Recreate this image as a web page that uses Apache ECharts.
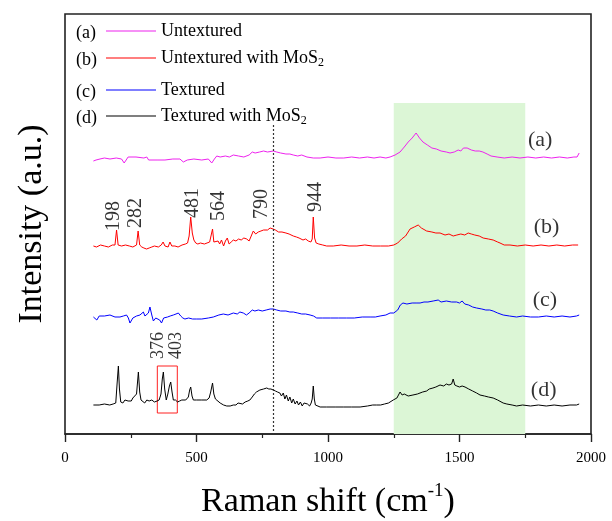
<!DOCTYPE html>
<html>
<head>
<meta charset="utf-8">
<script src="https://cdn.jsdelivr.net/npm/echarts@6.0.0/dist/echarts.min.js"></script>
<style>
html,body{margin:0;padding:0;background:#fff}
#main{width:612px;height:521px}
</style>
</head>
<body>
<div id="main"></div>
<script>
// Raman spectra, offset stacked (x = Raman shift cm-1, y = intensity a.u. incl. offset)
var names = ['Untextured', 'Untextured with MoS2', 'Textured', 'Textured with MoS2'];
var tags = ['(a)', '(b)', '(c)', '(d)'];
var colors = ['#ee22ee', '#ff0000', '#0000ff', '#000000'];

var ramanA = [[108,273],[113,271],[118,274],[133,275],[150,276],[171,275],[195,276],[215,275],[225,271],[232,272],[240,277],[270,277],[300,276],[311,277],[318,274],[323,273],[350,274],[380,274],[410,275],[437,275],[450,272],[456,271],[465,274],[490,275],[520,274],[545,275],[558,271],[568,275],[577,278],[590,277],[610,278],[625,277],[640,279],[660,278],[680,277],[700,279],[712,282],[723,281],[740,282],[755,283],[770,282],[792,283],[805,282],[820,281],[840,280],[855,280],[868,279],[885,278],[900,279],[920,277],[944,276],[970,276],[1000,277],[1030,276],[1060,276],[1090,277],[1120,276],[1150,277],[1175,276],[1198,277],[1220,276],[1236,277],[1255,279],[1274,282],[1290,287],[1305,292],[1320,296],[1335,301],[1348,296],[1361,292],[1378,289],[1395,286],[1412,285],[1430,283],[1450,282],[1464,281],[1480,282],[1495,284],[1505,283],[1515,286],[1529,286],[1545,284],[1560,283],[1575,283],[1589,282],[1605,280],[1620,278],[1643,277],[1670,276],[1700,277],[1730,276],[1760,277],[1790,276],[1820,277],[1850,276],[1880,277],[1910,276],[1935,277],[1947,277],[1955,281]];

var ramanB = [[108,188],[120,187],[135,189],[150,188],[165,187],[180,189],[190,189],[196,204],[202,189],[215,188],[230,189],[245,188],[258,187],[272,189],[278,203],[284,189],[292,187],[300,186],[310,185],[320,186],[330,187],[340,188],[355,187],[366,189],[373,192],[380,188],[392,187],[399,192],[406,188],[418,188],[430,187],[445,189],[458,190],[466,191],[472,198],[478,217],[484,201],[490,194],[497,191],[505,190],[515,191],[530,190],[540,191],[550,192],[556,193],[561,205],[566,192],[573,190],[582,193],[588,190],[595,194],[603,188],[610,193],[617,196],[624,190],[632,192],[640,194],[650,193],[660,195],[670,194],[680,196],[691,195],[700,193],[708,198],[716,203],[725,200],[735,202],[745,203],[755,204],[770,204],[780,206],[791,205],[800,204],[812,202],[825,202],[840,201],[852,200],[868,198],[880,197],[890,196],[905,194],[915,195],[925,193],[935,192],[940,195],[944,217],[949,196],[955,191],[965,190],[980,189],[995,188],[1020,188],[1050,189],[1080,188],[1110,188],[1140,189],[1170,188],[1200,188],[1230,188],[1250,189],[1265,191],[1280,195],[1295,198],[1312,205],[1328,207],[1343,209],[1355,206],[1375,203],[1395,202],[1410,201],[1426,201],[1445,199],[1460,200],[1476,198],[1490,199],[1505,200],[1520,199],[1533,201],[1545,200],[1558,199],[1575,198],[1590,196],[1610,195],[1628,194],[1645,192],[1654,191],[1670,189],[1692,189],[1720,188],[1750,189],[1780,188],[1810,189],[1840,188],[1870,189],[1900,188],[1930,189],[1951,189]];

var ramanC = [[108,117],[115,116],[121,114],[130,118],[150,118],[171,119],[190,117],[209,117],[222,118],[234,119],[241,116],[247,111],[258,116],[272,118],[285,119],[298,122],[304,118],[310,116],[317,121],[323,127],[330,119],[336,113],[345,116],[352,117],[360,114],[367,111],[375,116],[390,117],[400,118],[412,119],[422,120],[431,121],[440,118],[448,116],[456,115],[470,116],[485,115],[501,115],[520,115],[545,116],[564,117],[585,119],[602,120],[620,119],[640,121],[655,120],[665,122],[678,121],[690,119],[700,121],[712,124],[722,123],[735,124],[750,123],[765,124],[780,125],[792,125],[805,124],[820,123],[840,123],[855,122],[868,122],[885,121],[900,120],[915,120],[932,119],[945,118],[957,116],[980,116],[1010,116],[1040,116],[1071,116],[1100,116],[1130,117],[1160,117],[1180,117],[1198,118],[1220,119],[1236,121],[1250,121],[1265,124],[1275,129],[1285,131],[1300,130],[1320,131],[1335,131],[1350,131],[1365,132],[1380,132],[1400,133],[1419,134],[1430,132],[1450,133],[1470,132],[1489,132],[1500,131],[1510,133],[1520,130],[1535,129],[1550,127],[1565,126],[1585,125],[1600,124],[1615,124],[1628,123],[1645,121],[1666,119],[1690,118],[1717,117],[1740,118],[1770,117],[1800,117],[1830,118],[1860,117],[1890,118],[1920,117],[1945,118],[1955,119]];

var ramanD = [[108,29],[130,29],[150,30],[170,29],[183,30],[193,31],[198,50],[203,68],[207,45],[212,32],[220,31],[228,34],[234,36],[240,33],[245,35],[252,33],[258,36],[265,34],[272,40],[279,62],[284,42],[289,34],[296,32],[303,31],[311,34],[320,33],[330,34],[340,32],[350,33],[358,34],[365,40],[370,55],[374,62],[379,45],[385,34],[391,40],[397,48],[402,52],[407,42],[412,34],[420,34],[428,32],[436,33],[444,34],[450,33],[459,34],[465,36],[469,37],[474,44],[478,47],[483,38],[488,34],[500,34],[520,34],[539,34],[548,36],[554,42],[561,51],[566,40],[572,35],[577,34],[590,31],[603,29],[615,28],[628,28],[640,29],[650,29],[658,31],[665,31],[675,30],[685,32],[695,33],[703,34],[712,37],[720,40],[728,42],[741,44],[748,46],[755,45],[761,46],[767,46],[775,45],[783,45],[792,44],[800,43],[808,42],[817,41],[823,38],[830,41],[836,35],[842,39],[849,33],[855,37],[862,31],[868,35],[875,30],[882,33],[888,29],[895,32],[902,28],[909,31],[915,29],[922,30],[930,28],[936,31],[940,35],[944,48],[948,35],[952,29],[957,28],[970,27],[995,27],[1030,27],[1060,27],[1090,27],[1122,27],[1150,28],[1170,29],[1185,29],[1200,29],[1215,30],[1230,31],[1248,34],[1262,36],[1274,42],[1282,39],[1290,40],[1305,38],[1323,39],[1340,40],[1360,42],[1375,43],[1385,45],[1399,46],[1410,47],[1426,49],[1440,48],[1450,50],[1460,49],[1470,50],[1476,55],[1482,49],[1490,48],[1500,47],[1510,48],[1521,47],[1535,45],[1550,43],[1565,41],[1578,39],[1595,38],[1610,37],[1628,36],[1645,34],[1666,31],[1680,30],[1700,29],[1717,28],[1740,29],[1770,28],[1800,29],[1830,28],[1860,29],[1890,28],[1920,29],[1945,29],[1955,30]];

// peak annotations: [x, y at label foot, text]
var peaksB = [[184,203,'198'],[269,206,'282'],[484,216,'481'],[583,213,'564'],[747,215,'790'],[952,222,'944']];
var peaksD = [[354,75,'376'],[422,75,'403']];
// curve tags on the right
var tagPos = [[1807,294],[1831,207],[1825,134],[1820,44]];

var band = [1250, 1750];          // highlighted region
var dashX = 790;                   // dotted reference line
var boxD = [[351, 21], [427, 68]]; // red box around 376/403 peaks

var xTicks = {min: 0, max: 2000, interval: 500};

var serif = 'Liberation Serif';
var chart = echarts.init(document.getElementById('main'));

var spectra = [ramanA, ramanB, ramanC, ramanD];
var series = spectra.map(function (d, i) {
  return {
    name: names[i],
    type: 'line',
    data: d,
    symbol: 'none',
    z: 4,
    lineStyle: {color: colors[i], width: 1},
    itemStyle: {color: colors[i]}
  };
});

// green band + dotted line
series.push({
  type: 'line', data: [], z: 1, silent: true,
  markArea: {
    silent: true,
    itemStyle: {color: '#dcf6d6'},
    data: [[{coord: [band[0], 331]}, {coord: [band[1], 0]}]]
  },
  markLine: {
    silent: true, symbol: 'none', label: {show: false},
    lineStyle: {color: '#333', type: [2, 2], width: 1.2},
    data: [[{coord: [dashX, 309]}, {coord: [dashX, 0]}]]
  }
});
// red box
series.push({
  type: 'line', data: [], z: 5, silent: true,
  markArea: {
    silent: true,
    itemStyle: {color: 'rgba(0,0,0,0)', borderColor: '#ff2020', borderWidth: 1},
    data: [[{coord: boxD[0]}, {coord: boxD[1]}]]
  }
});

function textSeries(data, size, rotate) {
  return {
    type: 'scatter', data: data, symbolSize: 1, z: 6, silent: true,
    itemStyle: {color: 'rgba(0,0,0,0)'},
    label: {
      show: true, position: 'inside', rotate: rotate,
      align: rotate ? 'left' : 'center', verticalAlign: 'middle',
      color: '#000', fontFamily: serif, fontSize: size,
      formatter: function (p) { return p.value[2]; }
    }
  };
}
series.push(textSeries(peaksB, 20, 90));
series.push(textSeries(peaksD, 18, 90));
series.push(textSeries(tagPos.map(function (p, i) { return [p[0], p[1], tags[i]]; }), 22, 0));

var legendRows = [33, 60, 92, 118];
var legends = names.map(function (n, i) {
  return {
    data: [n], left: 106, top: legendRows[i] - 11, padding: 0,
    icon: 'rect', itemWidth: 50, itemHeight: 1.2, selectedMode: false,
    itemStyle: {color: colors[i]},
    textStyle: {
      color: '#000', fontFamily: serif, fontSize: 18,
      rich: {
        t: {fontFamily: serif, fontSize: 18, color: '#000', lineHeight: 22},
        s: {fontFamily: serif, fontSize: 12, color: '#000', lineHeight: 12, verticalAlign: 'bottom'}
      }
    },
    formatter: function (name) {
      return name.indexOf('MoS2') >= 0 ? '{t|' + name.replace('MoS2', 'MoS') + '}{s|2}' : '{t|' + name + '}';
    }
  };
});

var option = {
  backgroundColor: '#fff',
  animation: false,
  grid: {left: 65, right: 21, top: 14, bottom: 87, outerBoundsMode: 'none',
    show: true, borderColor: '#222', borderWidth: 1.6, backgroundColor: 'transparent'},
  legend: legends,
  xAxis: {
    type: 'value', min: xTicks.min, max: xTicks.max, interval: xTicks.interval,
    name: '{t|Raman shift (cm}{u|-1}{t|)}',
    nameLocation: 'middle', nameGap: 48,
    nameTextStyle: {
      rich: {
        t: {fontFamily: serif, fontSize: 34, color: '#000', lineHeight: 40},
        u: {fontFamily: serif, fontSize: 19, color: '#000', lineHeight: 22, verticalAlign: 'top'}
      }
    },
    axisLine: {lineStyle: {color: '#222', width: 1.6}},
    axisTick: {length: 8, lineStyle: {color: '#222', width: 1.4}},
    minorTick: {show: true, splitNumber: 2, length: 4, lineStyle: {color: '#222', width: 1.2}},
    splitLine: {show: false},
    axisLabel: {color: '#000', fontFamily: serif, fontSize: 15, margin: 17,
      formatter: function (v) { return String(v); }}
  },
  yAxis: {
    type: 'value', min: 0, max: 420,
    name: 'Intensity (a.u.)', nameLocation: 'middle', nameGap: 16,
    nameTextStyle: {fontFamily: serif, fontSize: 34, color: '#000'},
    axisLine: {show: false}, axisTick: {show: false}, axisLabel: {show: false}, splitLine: {show: false}
  },
  graphic: tags.map(function (t, i) {
    return {
      type: 'text', x: 76, y: legendRows[i], z: 10,
      style: {text: t, font: '18px "Liberation Serif"', fill: '#000', verticalAlign: 'middle'}
    };
  }),
  series: series
};
chart.setOption(option);
</script>
</body>
</html>
